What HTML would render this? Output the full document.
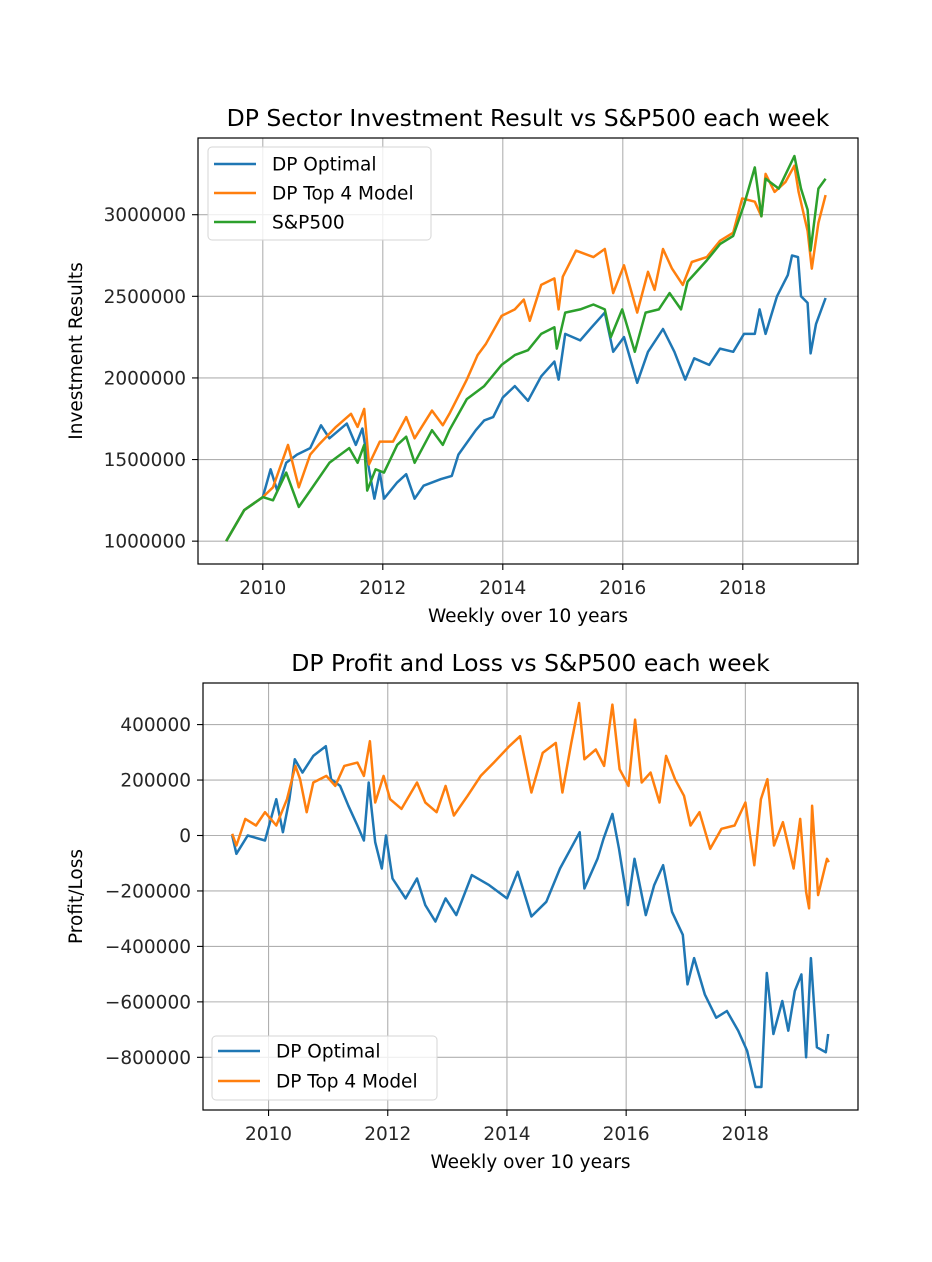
<!DOCTYPE html>
<html><head><meta charset="utf-8">
<style>
html,body{margin:0;padding:0;background:#fff;}
svg{display:block;font-family:"DejaVu Sans","Liberation Sans",sans-serif;}
</style></head>
<body>
<svg id="fig" width="932" height="1262" viewBox="0 0 932 1262" xmlns="http://www.w3.org/2000/svg">
<rect width="932" height="1262" fill="#fff"/>
<g id="top"></g>
<g id="bot"></g>
</svg>
<script>
// ---- Top chart data ----
const topOptYears=[2009.39,2009.69,2010.0,2010.13,2010.24,2010.39,2010.57,2010.79,2010.97,2011.11,2011.4,2011.55,2011.66,2011.77,2011.86,2011.95,2012.02,2012.24,2012.39,2012.53,2012.68,2012.97,2013.15,2013.26,2013.55,2013.69,2013.84,2014.0,2014.2,2014.42,2014.64,2014.86,2014.93,2015.04,2015.29,2015.48,2015.7,2015.84,2016.02,2016.24,2016.42,2016.67,2016.86,2017.04,2017.19,2017.44,2017.62,2017.84,2018.02,2018.2,2018.28,2018.38,2018.57,2018.75,2018.82,2018.92,2018.97,2019.08,2019.13,2019.22,2019.38];
const topOptValues=[1.0,1.19,1.27,1.44,1.31,1.48,1.53,1.57,1.71,1.63,1.72,1.59,1.69,1.44,1.26,1.42,1.26,1.36,1.41,1.26,1.34,1.38,1.40,1.53,1.68,1.74,1.76,1.88,1.95,1.86,2.01,2.10,1.99,2.27,2.23,2.31,2.40,2.16,2.25,1.97,2.16,2.30,2.16,1.99,2.12,2.08,2.18,2.16,2.27,2.27,2.42,2.27,2.50,2.63,2.75,2.74,2.50,2.46,2.15,2.33,2.49];
const topTop4Years=[2009.39,2009.69,2010.0,2010.17,2010.42,2010.6,2010.79,2010.93,2011.22,2011.47,2011.58,2011.69,2011.77,2011.95,2012.17,2012.39,2012.53,2012.82,2013.0,2013.11,2013.4,2013.58,2013.72,2013.98,2014.2,2014.35,2014.45,2014.64,2014.86,2014.93,2015.0,2015.22,2015.51,2015.7,2015.84,2016.02,2016.24,2016.42,2016.53,2016.67,2016.82,2017.0,2017.15,2017.4,2017.62,2017.84,2017.99,2018.2,2018.31,2018.38,2018.53,2018.71,2018.86,2018.93,2019.08,2019.15,2019.26,2019.38];
const topTop4Values=[1.0,1.19,1.27,1.33,1.59,1.33,1.53,1.59,1.70,1.78,1.70,1.81,1.47,1.61,1.61,1.76,1.63,1.80,1.71,1.78,1.99,2.14,2.21,2.38,2.42,2.48,2.35,2.57,2.61,2.42,2.62,2.78,2.74,2.79,2.52,2.69,2.40,2.65,2.54,2.79,2.67,2.57,2.71,2.74,2.84,2.89,3.10,3.08,2.99,3.25,3.14,3.20,3.30,3.14,2.90,2.67,2.95,3.12];
const topSpYears=[2009.39,2009.69,2010.0,2010.17,2010.39,2010.6,2010.79,2011.11,2011.44,2011.58,2011.69,2011.74,2011.88,2012.02,2012.24,2012.39,2012.53,2012.82,2013.0,2013.11,2013.4,2013.69,2013.98,2014.2,2014.42,2014.64,2014.86,2014.9,2015.04,2015.29,2015.51,2015.7,2015.8,2015.99,2016.2,2016.38,2016.6,2016.78,2016.97,2017.08,2017.4,2017.62,2017.84,2018.02,2018.2,2018.31,2018.38,2018.6,2018.86,2018.97,2019.08,2019.13,2019.26,2019.38];
const topSpValues=[1.0,1.19,1.27,1.25,1.42,1.21,1.31,1.48,1.57,1.48,1.59,1.31,1.44,1.42,1.59,1.64,1.48,1.68,1.59,1.68,1.87,1.95,2.08,2.14,2.17,2.27,2.31,2.18,2.40,2.42,2.45,2.42,2.25,2.42,2.16,2.40,2.42,2.52,2.42,2.59,2.72,2.82,2.87,3.06,3.29,2.99,3.22,3.16,3.36,3.16,3.03,2.78,3.16,3.22];
const topYTicks=[1000000,1500000,2000000,2500000,3000000];
const topYTickLabels=["1000000","1500000","2000000","2500000","3000000"];
// ---- Bottom chart data ----
const botOptYears=[2009.39,2009.46,2009.65,2009.94,2010.13,2010.24,2010.35,2010.44,2010.57,2010.75,2010.96,2011.05,2011.2,2011.34,2011.49,2011.6,2011.68,2011.79,2011.9,2011.97,2012.08,2012.3,2012.49,2012.63,2012.8,2012.97,2013.15,2013.41,2013.7,2014.0,2014.18,2014.41,2014.66,2014.89,2015.07,2015.22,2015.3,2015.52,2015.62,2015.77,2015.88,2016.03,2016.14,2016.33,2016.47,2016.62,2016.77,2016.95,2017.03,2017.14,2017.32,2017.51,2017.69,2017.88,2018.03,2018.17,2018.27,2018.36,2018.47,2018.62,2018.72,2018.83,2018.94,2019.02,2019.1,2019.2,2019.35,2019.39];
const botOptValues=[0,-66,0,-18,131,12,131,275,227,287,322,203,179,107,36,-18,191,-24,-119,0,-155,-227,-155,-251,-310,-227,-287,-143,-179,-227,-131,-292,-239,-119,-48,12,-191,-84,-12,78,-48,-251,-84,-287,-179,-107,-275,-358,-537,-442,-573,-657,-633,-704,-776,-907,-907,-496,-716,-597,-704,-561,-501,-800,-442,-764,-782,-716];
const botTop4Years=[2009.39,2009.46,2009.61,2009.79,2009.94,2010.13,2010.31,2010.45,2010.53,2010.64,2010.75,2010.97,2011.12,2011.27,2011.49,2011.6,2011.7,2011.79,2011.93,2012.04,2012.23,2012.49,2012.63,2012.82,2012.97,2013.11,2013.34,2013.56,2013.78,2014.04,2014.22,2014.41,2014.6,2014.82,2014.93,2015.08,2015.21,2015.3,2015.49,2015.63,2015.77,2015.89,2016.04,2016.15,2016.26,2016.41,2016.56,2016.67,2016.82,2016.97,2017.08,2017.23,2017.41,2017.6,2017.82,2018.0,2018.15,2018.26,2018.37,2018.48,2018.63,2018.81,2018.92,2019.02,2019.07,2019.12,2019.22,2019.37,2019.4];
const botTop4Values=[6,-36,60,36,84,36,131,251,203,84,191,215,179,251,263,215,340,119,215,131,96,191,119,84,179,72,143,215,263,322,358,155,298,334,155,334,478,275,310,251,472,239,179,418,191,227,119,287,203,143,36,84,-48,24,36,119,-107,131,203,-36,48,-119,60,-203,-263,107,-215,-84,-96];
const botYTicks=[-800000,-600000,-400000,-200000,0,200000,400000];
const botYTickLabels=["\u2212800000","\u2212600000","\u2212400000","\u2212200000","0","200000","400000"];
const xTickYears=[2010,2012,2014,2016,2018];
const xTickLabels=["2010","2012","2014","2016","2018"];

const NS="http://www.w3.org/2000/svg";
function mk(parent,tag,attrs,text){const e=document.createElementNS(NS,tag);for(const k in attrs)e.setAttribute(k,attrs[k]);if(text!==undefined)e.textContent=text;parent.appendChild(e);return e;}

function drawChart(g,cfg){
  const {L,R,T,B,x0,x1,y0,y1}=cfg;
  const sx=v=>L+(v-x0)/(x1-x0)*(R-L);
  const sy=v=>B-(v-y0)/(y1-y0)*(B-T);
  xTickYears.forEach((yr,i)=>{
    const x=sx(yr);
    const gl=mk(g,'line',{x1:x,x2:x,y1:T,y2:B,stroke:'#b0b0b0','stroke-width':1.1});
    
    
    const tk=mk(g,'line',{x1:x,x2:x,y1:B,y2:B+6,stroke:'#000','stroke-width':1.1});
    
    
    const tl=mk(g,'text',{x:x,y:B+30,'font-size':18.5,'text-anchor':'middle',fill:'#262626'},xTickLabels[i]);
    
    
  });
  cfg.yTicks.forEach((v,i)=>{
    const y=sy(v);
    const gl=mk(g,'line',{x1:L,x2:R,y1:y,y2:y,stroke:'#b0b0b0','stroke-width':1.1});
    
    
    const tk=mk(g,'line',{x1:L-6,x2:L,y1:y,y2:y,stroke:'#000','stroke-width':1.1});
    
    
    const tl=mk(g,'text',{x:L-12,y:y+6.5,'font-size':18.5,'text-anchor':'end',fill:'#262626'},cfg.yLabels[i]);
    
    
  });
  const clipId='clip'+cfg.id;
  const cp=mk(g,'clipPath',{id:clipId});mk(cp,'rect',{x:L,y:T,width:R-L,height:B-T});
  cfg.series.forEach(s=>{
    const d=s.xs.map((x,i)=>(i?'L':'M')+sx(x).toFixed(1)+','+sy(s.ys[i]*s.mul).toFixed(1)).join('');
    const p=mk(g,'path',{d:d,fill:'none',stroke:s.color,'stroke-width':2.5,'stroke-linejoin':'round','clip-path':'url(#'+clipId+')'});
    
    
  });
  const fr=mk(g,'rect',{x:L,y:T,width:R-L,height:B-T,fill:'none',stroke:'#000','stroke-width':1.2});
  
  
  const tt=mk(g,'text',{x:(L+R)/2,y:T-12,'font-size':23.5,'text-anchor':'middle',fill:'#000'},cfg.title);
  
  
  const xl=mk(g,'text',{x:(L+R)/2,y:B+58,'font-size':18.5,'text-anchor':'middle',fill:'#000'},'Weekly over 10 years');
  
  
  const yc=(T+B)/2;
  const yl=mk(g,'text',{x:82,y:yc,'font-size':18.5,'text-anchor':'middle',fill:'#000',transform:'rotate(-90 82 '+yc+')'},cfg.ylabel);
  
  
  const lg=mk(g,'g',{});
  
  
  const lb=cfg.legend;
  mk(lg,'rect',{x:lb.x,y:lb.y,width:lb.w,height:lb.h,rx:4,fill:'rgba(255,255,255,0.8)',stroke:'#d6d6d6','stroke-width':1});
  cfg.series.forEach((s,i)=>{
    const y=lb.y+lb.first+i*lb.step;
    const e=mk(lg,'g',{});
    
    
    mk(e,'line',{x1:lb.x+6,x2:lb.x+48,y1:y,y2:y,stroke:s.color,'stroke-width':2.5});
    mk(e,'text',{x:lb.x+64,y:y+6.5,'font-size':18.5,fill:'#000'},s.label);
  });
}

drawChart(document.getElementById('top'),{id:'t',L:198,R:858,T:138,B:564,
  x0:2008.92,x1:2019.92,y0:860000,y1:3470000,
  yTicks:topYTicks,yLabels:topYTickLabels,
  title:'DP Sector Investment Result vs S&P500 each week',ylabel:'Investment Results',
  legend:{x:208,y:147,w:223,h:93,first:17,step:29},
  series:[
   {name:'dp-optimal-line',label:'DP Optimal',color:'#1f77b4',xs:topOptYears,ys:topOptValues,mul:1e6},
   {name:'dp-top4-line',label:'DP Top 4 Model',color:'#ff7f0e',xs:topTop4Years,ys:topTop4Values,mul:1e6},
   {name:'sp500-line',label:'S&P500',color:'#2ca02c',xs:topSpYears,ys:topSpValues,mul:1e6}
  ]});
drawChart(document.getElementById('bot'),{id:'b',L:203,R:858,T:683,B:1110,
  x0:2008.9,x1:2019.89,y0:-990000,y1:550000,
  yTicks:botYTicks,yLabels:botYTickLabels,
  title:'DP Profit and Loss vs S&P500 each week',ylabel:'Profit/Loss',
  legend:{x:212,y:1036,w:225,h:64,first:15,step:30},
  series:[
   {name:'dp-optimal-pnl-line',label:'DP Optimal',color:'#1f77b4',xs:botOptYears,ys:botOptValues,mul:1000},
   {name:'dp-top4-pnl-line',label:'DP Top 4 Model',color:'#ff7f0e',xs:botTop4Years,ys:botTop4Values,mul:1000}
  ]});
</script>
</body></html>
